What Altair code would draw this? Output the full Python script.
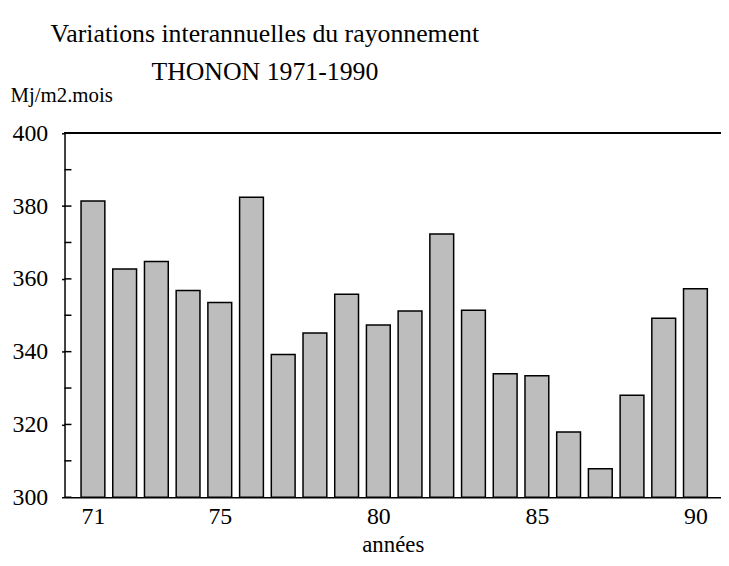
import altair as alt
import pandas as pd

years = list(range(71, 91))
values = [381.4, 362.7, 364.8, 356.8, 353.5, 382.4, 339.2, 345.1, 355.8, 347.3,
          351.2, 372.3, 351.4, 333.9, 333.4, 317.9, 307.8, 328.0, 349.2, 357.3]
x_ticks = [71, 75, 80, 85, 90]
y_labels = [300, 320, 340, 360, 380, 400]
y_ticks = [300, 310, 320, 330, 340, 350, 360, 370, 380, 390, 400]

df = pd.DataFrame({"annee": years, "valeur": values})
ticks_df = pd.DataFrame({"t": y_ticks})

FONT = "Liberation Serif"

xscale = alt.Scale(domain=[70.26, 90.65], nice=False, zero=False)
yscale = alt.Scale(domain=[300, 400], nice=False, zero=False)

bars = alt.Chart(df).mark_bar(
    width=24, fill="#bdbdbd", stroke="black", strokeWidth=1.5
).encode(
    x=alt.X("annee:Q", scale=xscale,
            axis=alt.Axis(values=x_ticks, title="années", ticks=False,
                          labelFontSize=24, labelPadding=7, labelFont=FONT,
                          titleFont=FONT, titleFontSize=23, titleFontWeight="normal",
                          titlePadding=6, grid=False, zindex=1,
                          domainColor="black", domainWidth=1.5, labelColor="black")),
    y=alt.Y("valeur:Q", scale=yscale,
            axis=alt.Axis(values=y_labels, title="Mj/m2.mois", tickSize=3,
                          tickColor="black", tickWidth=1.5,
                          labelFontSize=24, labelPadding=14, labelFont=FONT,
                          labelColor="black",
                          titleFont=FONT, titleFontSize=21, titleFontWeight="normal",
                          titleAngle=0, titleAlign="left", titleBaseline="alphabetic",
                          titleX=-55, titleY=-32, grid=False, zindex=1,
                          domainColor="black", domainWidth=1.5)),
    y2=alt.datum(300),
)

inner_ticks = alt.Chart(ticks_df).mark_rule(color="black", strokeWidth=1.5).encode(
    y=alt.Y("t:Q", scale=yscale),
    x=alt.value(0),
    x2=alt.value(7),
)

top_line = alt.Chart(df).mark_rule(color="black", strokeWidth=1.5).encode(
    y=alt.datum(400, scale=yscale),
)

chart = alt.layer(bars, inner_ticks, top_line).properties(
    width=662,
    height=367,
    autosize=alt.AutoSizeParams(type="none"),
    padding={"left": 57, "top": 124, "right": 0, "bottom": 66},
    title=alt.Title(
        ["Variations interannuelles du rayonnement", "THONON 1971-1990"],
        font=FONT, fontSize=26, fontWeight="normal", lineHeight=38,
        anchor="middle", dx=-129, offset=0, color="black",
    ),
).configure_view(stroke=None)

chart.save("out.html", embed_options={"renderer": "svg", "actions": False})
